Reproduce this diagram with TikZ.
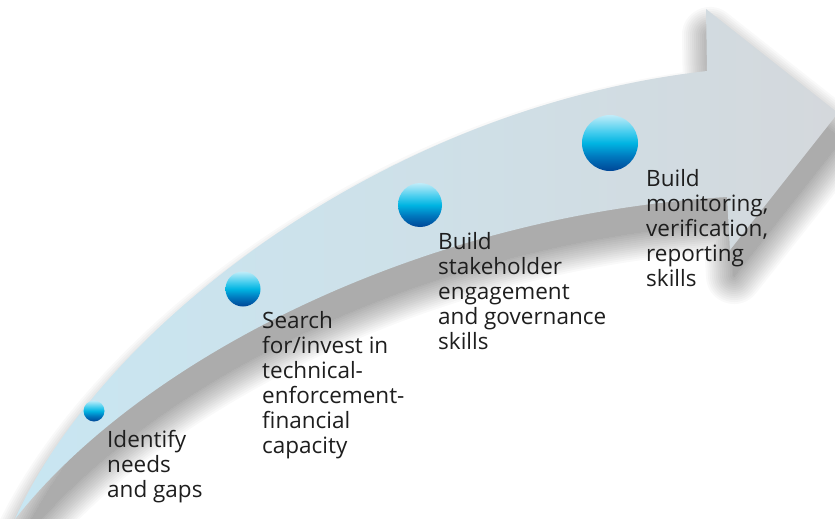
\documentclass[tikz,border=0pt]{standalone}
\usepackage{fontspec}
\setmainfont{Open Sans}
\definecolor{bandL}{RGB}{200,230,242}
\definecolor{bandM}{RGB}{206,224,232}
\definecolor{bandR}{RGB}{212,216,220}
\definecolor{ballTop}{RGB}{192,236,249}
\definecolor{ballHi}{RGB}{70,205,238}
\definecolor{ballMid}{RGB}{0,180,226}
\definecolor{ballLo}{RGB}{0,120,190}
\definecolor{ballBot}{RGB}{0,70,150}
\definecolor{txt}{RGB}{30,30,30}
\pgfdeclareverticalshading{ballshade}{100bp}{color(0bp)=(ballBot); color(25bp)=(ballBot); color(38bp)=(ballLo); color(50bp)=(ballMid); color(60bp)=(ballHi); color(75bp)=(ballTop); color(100bp)=(ballTop)}
\newcommand\arrowshape{(15,519) .. controls (100,330) and (380,108) .. (707,71) -- (706,9) -- (838,113) -- (730,250) -- (727,197) .. controls (420,215) and (140,360) .. (15,519) -- cycle}
\begin{document}
\begin{tikzpicture}[x=1pt,y=-1pt,
  lbl/.style={anchor=base west, align=left, inner sep=0pt, font=\fontsize{22.5}{25}\selectfont, text=txt},
  ball/.style={circle, inner sep=0pt, draw=none, shading=ballshade}]
\fill[white] (0,0) rectangle (835,519);
\useasboundingbox (0,0) rectangle (835,519);
% blurred shadow: stacked dilations of the shifted shape
\foreach \w in {0,4,...,56} {
  \begin{scope}[transparency group, opacity=0.025, shift={(4,26)}]
    \filldraw[black, line width=\w pt, line join=round] \arrowshape;
  \end{scope}
}
% arrow body
\shade[left color=bandL, right color=bandR, middle color=bandM] \arrowshape;
% balls
\node[ball, minimum size=21pt] (c1) at (94,411) {};
\node[ball, minimum size=35pt] (c2) at (243,289) {};
\node[ball, minimum size=44pt] (c3) at (420,205) {};
\node[ball, minimum size=56pt] (c4) at (610,143) {};
% labels (anchored at the baseline of their last line)
\node[lbl] (t1) at (107,497) {Identify\\needs\\and gaps};
\node[lbl] (t2) at (262,453) {Search\\for/invest in\\technical-\\enforcement-\\financial\\capacity};
\node[lbl] (t3) at (438,349) {Build\\stakeholder\\engagement\\and governance\\skills};
\node[lbl] (t4) at (646,286) {Build\\monitoring,\\verification,\\reporting\\skills};
\end{tikzpicture}
\end{document}
